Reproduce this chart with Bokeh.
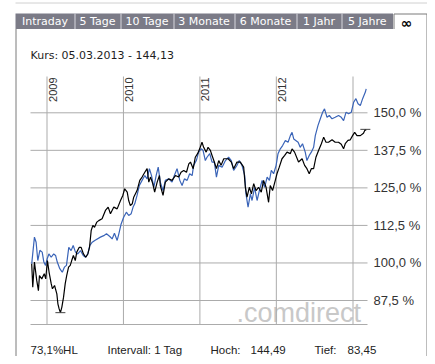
import numpy as np
import pandas as pd
from bokeh.plotting import figure
from bokeh.models import Range1d
from bokeh.core.properties import value
from bokeh.embed import file_html
from bokeh.resources import INLINE

# ---------------- data ----------------
black_dates = [
    "2008-10-20", "2008-10-25", "2008-11-02", "2008-11-13", "2008-11-21", "2008-11-26", "2008-12-07",
    "2008-12-19", "2008-12-26", "2009-01-03", "2009-01-11", "2009-01-21", "2009-01-27", "2009-02-06",
    "2009-02-17", "2009-02-22", "2009-02-28", "2009-03-06", "2009-03-13", "2009-03-21", "2009-03-29",
    "2009-04-05", "2009-04-14", "2009-04-22", "2009-04-29", "2009-05-07", "2009-05-16", "2009-05-23",
    "2009-06-04", "2009-06-13", "2009-06-24", "2009-07-05", "2009-07-15", "2009-07-23", "2009-07-31",
    "2009-08-08", "2009-08-16", "2009-08-27", "2009-09-05", "2009-09-21", "2009-10-07", "2009-10-20",
    "2009-10-31", "2009-11-16", "2009-12-02", "2009-12-18", "2009-12-29", "2010-01-07", "2010-01-19",
    "2010-01-26", "2010-02-03", "2010-02-12", "2010-02-19", "2010-03-07", "2010-03-20", "2010-03-31",
    "2010-04-13", "2010-04-24", "2010-05-02", "2010-05-10", "2010-05-21", "2010-05-30", "2010-06-11",
    "2010-06-22", "2010-06-26", "2010-07-09", "2010-07-20", "2010-08-05", "2010-08-21", "2010-09-06",
    "2010-09-22", "2010-10-03", "2010-10-16", "2010-10-29", "2010-11-09", "2010-11-17", "2010-11-30",
    "2010-12-10", "2010-12-21", "2010-12-31", "2011-01-11", "2011-01-19", "2011-01-31", "2011-02-09",
    "2011-02-20", "2011-02-28", "2011-03-11", "2011-03-21", "2011-04-01", "2011-04-12", "2011-04-25",
    "2011-05-03", "2011-05-16", "2011-05-31", "2011-06-11", "2011-06-27", "2011-07-13", "2011-07-29",
    "2011-08-06", "2011-08-14", "2011-08-25", "2011-09-04", "2011-09-15", "2011-09-26", "2011-10-08",
    "2011-10-21", "2011-11-01", "2011-11-13", "2011-11-25", "2011-12-03", "2011-12-14", "2011-12-27",
    "2012-01-04", "2012-01-15", "2012-01-28", "2012-02-10", "2012-02-21", "2012-03-08", "2012-03-16",
    "2012-03-28", "2012-04-16", "2012-05-03", "2012-05-15", "2012-05-26", "2012-06-06", "2012-06-16",
    "2012-06-27", "2012-07-08", "2012-07-21", "2012-08-03", "2012-08-14", "2012-08-25", "2012-09-06",
    "2012-09-23", "2012-10-08", "2012-10-24", "2012-11-06", "2012-11-17", "2012-11-25", "2012-12-08",
    "2012-12-19", "2012-12-30", "2013-01-09", "2013-01-20", "2013-02-05", "2013-02-20", "2013-03-01",
    "2013-03-05",
]
black_values = [
    99.7, 91.9, 100.3, 94.2, 90.8, 95.8, 94.7,
    96.4, 94.7, 100.8, 96.9, 93.1, 91.4, 92.5,
    89.7, 86.4, 84.7, 83.45, 85.3, 88.6, 93.1,
    95.8, 98.6, 99.2, 100.8, 102.5, 100.8, 103.6,
    105.2, 105.2, 103.0, 101.9, 103.0, 105.2, 110.8,
    112.5, 111.9, 113.6, 114.1, 114.7, 117.5, 118.6,
    116.4, 118.6, 118.0, 120.8, 122.5, 124.7, 123.6,
    120.8, 119.1, 119.7, 121.9, 124.1, 127.5, 128.6,
    130.2, 131.4, 126.9, 128.6, 126.4, 123.6, 126.9,
    129.1, 125.8, 122.5, 126.9, 128.0, 127.5, 129.1,
    128.6, 130.2, 130.8, 130.2, 133.0, 133.6, 131.4,
    135.2, 136.4, 138.0, 140.2, 138.5, 136.9, 138.5,
    137.5, 135.8, 133.6, 131.4, 134.1, 132.5, 134.7,
    134.7, 134.7, 133.6, 131.4, 133.6, 133.6, 131.9,
    125.2, 121.9, 125.2, 123.0, 126.4, 124.1, 125.2,
    123.6, 127.5, 125.2, 120.2, 125.8, 124.1, 127.5,
    129.7, 131.9, 134.7, 135.8, 136.9, 136.4, 138.0,
    136.9, 133.6, 134.7, 132.5, 131.4, 129.7, 131.4,
    131.4, 135.2, 137.5, 139.7, 141.9, 140.2, 140.2,
    141.0, 140.2, 140.2, 139.5, 138.0, 139.7, 140.8,
    141.0, 142.4, 143.5, 142.4, 142.4, 143.2, 144.49,
    144.13,
]

blue_dates = [
    "2008-10-20", "2008-10-25", "2008-11-02", "2008-11-10", "2008-11-18", "2008-11-28", "2008-12-09",
    "2008-12-17", "2008-12-25", "2009-01-02", "2009-01-10", "2009-01-21", "2009-02-02", "2009-02-11",
    "2009-02-19", "2009-03-03", "2009-03-15", "2009-03-25", "2009-04-04", "2009-04-15", "2009-04-26",
    "2009-05-06", "2009-05-17", "2009-05-28", "2009-06-10", "2009-06-23", "2009-07-04", "2009-07-15",
    "2009-07-24", "2009-08-05", "2009-08-17", "2009-09-13", "2009-09-29", "2009-10-12", "2009-10-28",
    "2009-11-08", "2009-11-19", "2009-12-02", "2009-12-10", "2009-12-21", "2010-01-02", "2010-01-15",
    "2010-01-26", "2010-02-07", "2010-02-16", "2010-02-24", "2010-03-07", "2010-03-18", "2010-03-31",
    "2010-04-13", "2010-04-24", "2010-05-05", "2010-05-15", "2010-05-26", "2010-06-06", "2010-06-16",
    "2010-06-26", "2010-07-09", "2010-07-20", "2010-08-05", "2010-08-21", "2010-09-01", "2010-09-14",
    "2010-09-27", "2010-10-08", "2010-10-19", "2010-11-01", "2010-11-13", "2010-11-25", "2010-12-02",
    "2010-12-15", "2010-12-26", "2011-01-07", "2011-01-16", "2011-01-27", "2011-02-04", "2011-02-17",
    "2011-02-28", "2011-03-11", "2011-03-21", "2011-04-01", "2011-04-17", "2011-05-03", "2011-05-18",
    "2011-05-31", "2011-06-11", "2011-06-27", "2011-07-08", "2011-07-21", "2011-08-03", "2011-08-09",
    "2011-08-19", "2011-08-30", "2011-09-07", "2011-09-19", "2011-10-01", "2011-10-12", "2011-10-25",
    "2011-11-06", "2011-11-18", "2011-11-29", "2011-12-08", "2011-12-19", "2011-12-31", "2012-01-09",
    "2012-01-20", "2012-01-31", "2012-02-13", "2012-02-26", "2012-03-08", "2012-03-16", "2012-03-24",
    "2012-04-14", "2012-04-24", "2012-05-05", "2012-05-18", "2012-05-26", "2012-06-06", "2012-06-16",
    "2012-06-27", "2012-07-05", "2012-07-18", "2012-07-29", "2012-08-09", "2012-08-18", "2012-08-30",
    "2012-09-10", "2012-09-23", "2012-10-08", "2012-10-24", "2012-11-06", "2012-11-17", "2012-11-29",
    "2012-12-11", "2012-12-24", "2013-01-04", "2013-01-15", "2013-01-25", "2013-02-05", "2013-02-16",
    "2013-03-01", "2013-03-05",
]
blue_values = [
    99.7, 103.1, 108.6, 106.9, 100.8, 104.2, 103.6,
    100.3, 99.2, 101.4, 103.0, 101.9, 103.0, 102.5,
    100.3, 98.1, 96.9, 98.6, 99.2, 105.2, 104.1,
    105.8, 103.6, 103.0, 104.1, 102.5, 101.9, 103.0,
    105.8, 106.9, 107.5, 108.6, 109.1, 109.7, 108.8,
    108.0, 109.9, 107.5, 109.7, 113.0, 115.2, 116.9,
    115.8, 116.4, 118.6, 119.7, 122.5, 125.8, 127.5,
    129.1, 128.0, 131.4, 129.1, 125.2, 129.1, 131.9,
    126.9, 124.1, 127.5, 128.0, 126.9, 129.1, 131.4,
    127.5, 125.8, 128.0, 127.5, 129.7, 129.1, 132.5,
    134.1, 136.9, 138.0, 137.5, 134.1, 135.2, 136.4,
    133.6, 133.6, 128.6, 132.5, 131.9, 134.1, 135.2,
    134.1, 130.8, 132.5, 134.1, 132.5, 129.1, 123.0,
    118.6, 123.0, 120.8, 125.2, 120.8, 124.1, 127.5,
    125.2, 128.6, 127.5, 130.8, 129.7, 132.5, 136.4,
    138.0, 139.1, 140.8, 140.2, 142.4, 143.5, 141.3,
    140.2, 138.5, 139.7, 136.9, 134.1, 135.8, 136.9,
    138.5, 142.4, 145.8, 148.0, 150.2, 151.3, 148.5,
    149.1, 148.0, 148.5, 149.1, 148.5, 147.4, 150.2,
    149.7, 150.2, 153.5, 154.7, 153.0, 152.4, 154.7,
    156.9, 158.0,
]

y_ticks = [87.5, 100.0, 112.5, 125.0, 137.5, 150.0]
year_ticks = ["2009-01-01", "2010-01-01", "2011-01-01", "2012-01-01", "2013-01-01"]
year_labels = ["2009", "2010", "2011", "2012", ""]
tab_labels = ["Intraday", "5 Tage", "10 Tage", "3 Monate", "6 Monate", "1 Jahr", "5 Jahre"]
active_tab_label = "\u221e"
interval_text = "Intervall: 1 Tag"

# ---------------- helpers ----------------
EPOCH = pd.Timestamp("1970-01-01")


def to_ms(dates):
    return [(pd.Timestamp(d) - EPOCH) / pd.Timedelta(milliseconds=1) for d in dates]


def de_num(v, nd):
    return f"{v:.{nd}f}".replace(".", ",")


# ---------------- layout (reference-pixel frame) ----------------
OFF = 0
W, H = 427, 356
PX_A, PX_B = 46.5, 352.5        # pixel x of 2009-01-01 and 2013-01-01
PY_A, PY_B = 112.3, 300.0       # pixel y of 150 % and 87,5 %
ms_a, ms_b = to_ms(["2009-01-01", "2013-01-01"])
ms_per_px = (ms_b - ms_a) / (PX_B - PX_A)
val_per_px = (150.0 - 87.5) / (PY_B - PY_A)


def px_x(px):
    return ms_a + (px - PX_A) * ms_per_px


def px_y(py):
    return 150.0 - (py - PY_A) * val_per_px


PLOT_L, PLOT_R, PLOT_T, PLOT_B = 30, 367, 76, 324
x_lo, x_hi = px_x(PLOT_L), px_x(PLOT_R)
y_lo, y_hi = px_y(PLOT_B), px_y(PLOT_T)

p = figure(width=W, height=H, title=None,
           x_range=Range1d(px_x(OFF), px_x(OFF + W)),
           y_range=Range1d(px_y(OFF + H), px_y(OFF)),
           x_axis_location=None, y_axis_location=None,
           toolbar_location=None, output_backend="svg",
           min_border=0, outline_line_color=None,
           background_fill_color="white", border_fill_color="white")
p.grid.visible = False
p.extra_x_ranges = {"px": Range1d(OFF, OFF + W)}
p.extra_y_ranges = {"px": Range1d(OFF + H, OFF)}
PX = dict(x_range_name="px", y_range_name="px")

LABEL_FONT = value("Liberation Sans")
TAB_FONT = value("DejaVu Sans")

# watermark
p.text(x=[236], y=[312], text=[".comdirect"], text_font=LABEL_FONT, text_font_size="27px",
       text_color="#c8c8c8", text_align="left", text_baseline="alphabetic", **PX)

# grid lines
GRID = "#ababab"
n = len(y_ticks)
p.segment(x0=[x_lo] * n, y0=y_ticks, x1=[x_hi] * n, y1=y_ticks, line_color=GRID, line_width=1)
yt = to_ms(year_ticks)
p.segment(x0=yt, y0=[y_lo] * len(yt), x1=yt, y1=[y_hi] * len(yt), line_color=GRID, line_width=1)
p.segment(x0=[x_lo], y0=[y_lo], x1=[x_hi], y1=[y_lo], line_color=GRID, line_width=1)

# series
bx = to_ms(blue_dates)
kx = to_ms(black_dates)
p.line(bx, blue_values, line_color="#3a64b8", line_width=1.2)
p.line(kx, black_values, line_color="#000000", line_width=1.2)

# high / low markers
i_min = int(np.argmin(black_values))
i_max = int(np.argmax(black_values))
half = 5 * ms_per_px
p.segment(x0=[kx[i_min] - half, kx[i_max] - half], y0=[black_values[i_min], black_values[i_max]],
          x1=[kx[i_min] + half, kx[i_max] + half], y1=[black_values[i_min], black_values[i_max]],
          line_color="#444444", line_width=1)

# axis labels
p.text(x=[x_hi] * n, y=y_ticks, text=[de_num(v, 1) + " %" for v in y_ticks],
       text_font=LABEL_FONT, text_font_size="13px", text_color="#333333",
       text_align="left", text_baseline="middle", x_offset=6)
p.text(x=yt, y=[y_hi] * len(yt), text=year_labels, angle=np.pi / 2,
       text_font=LABEL_FONT, text_font_size="11px", text_color="#333333",
       text_align="right", text_baseline="top", x_offset=1.5, y_offset=1)

# ---------------- page decorations (reference pixels) ----------------
p.segment(x0=[15], y0=[2.5], x1=[435], y1=[2.5], line_color="#d0d0d0", line_width=1, **PX)

tab_edges = [15, 74, 120, 173, 234, 296, 341, 392.5]
p.quad(left=[tab_edges[0]], right=[tab_edges[-1]], top=[13], bottom=[28.5],
       fill_color="#7b7b87", line_color=None, **PX)
inner = tab_edges[1:-1]
p.segment(x0=[e + 0.5 for e in inner], y0=[13] * len(inner), x1=[e + 0.5 for e in inner],
          y1=[28.5] * len(inner), line_color="#d8d8de", line_width=1, **PX)
centers = [(a + b) / 2 for a, b in zip(tab_edges[:-1], tab_edges[1:])]
p.text(x=centers, y=[21] * len(centers), text=tab_labels, text_font=TAB_FONT,
       text_font_size="11px", text_color="#ffffff", text_align="center",
       text_baseline="middle", **PX)

# active tab and panel borders
p.multi_line(xs=[[393.5, 393.5, 426.5, 426.5], [15.5, 15.5]],
             ys=[[28.5, 13.5, 13.5, 364], [28.5, 364]],
             line_color="#7a7a7a", line_width=1, **PX)
p.text(x=[406], y=[22], text=[active_tab_label], text_font=TAB_FONT, text_font_style="bold",
       text_font_size="14px", text_color="#000000", text_align="center",
       text_baseline="middle", **PX)

# header
last_date = pd.Timestamp(black_dates[-1]).strftime("%d.%m.%Y")
kurs_text = f"Kurs: {last_date} - {de_num(black_values[-1], 2)}"
p.text(x=[30], y=[54.5], text=[kurs_text], text_font=TAB_FONT, text_font_size="11px",
       text_color="#1e1e1e", text_align="left", text_baseline="middle", **PX)

# footer stats
hoch = max(black_values)
tief = min(black_values)
hl = (hoch - tief) / tief * 100
footer_text = [f"{de_num(int(hl * 10) / 10, 1)}%HL", interval_text, "Hoch:", de_num(hoch, 2),
               "Tief:", de_num(tief, 2)]
footer_x = [30, 107, 210, 250, 314, 347]
p.text(x=footer_x, y=[349] * len(footer_x), text=footer_text, text_font=LABEL_FONT,
       text_font_size="11.5px", text_color="#222222", text_align="left",
       text_baseline="middle", **PX)

open("out.html", "w").write(file_html(p, INLINE))
